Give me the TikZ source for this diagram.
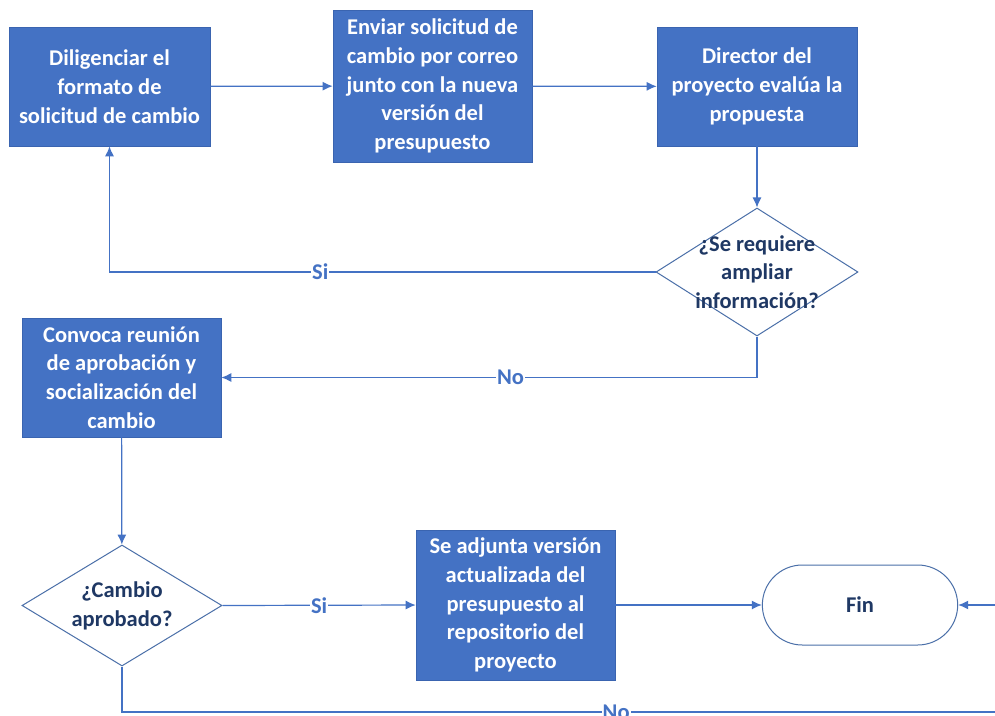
\documentclass[tikz,border=0pt]{standalone}
\usepackage{fontspec}
\setmainfont{Carlito}
\usetikzlibrary{shapes.geometric,shapes.misc,arrows.meta}
\definecolor{bblue}{HTML}{4472C4}
\definecolor{bedge}{HTML}{3A64B0}
\definecolor{dedge}{HTML}{4A6FA8}
\definecolor{dtextc}{HTML}{1F3864}
\tikzset{
  x=1pt,y=-1pt,
  proc/.style={rectangle,fill=bblue,draw=bedge,line width=0.6pt,text=white,font=\bfseries\fontsize{22.5}{28.8}\selectfont,align=center,inner sep=0pt},
  dia/.style={diamond,draw=dedge,line width=1pt,fill=white,inner sep=0pt,minimum width=202pt,minimum height=128pt},
  dtext/.style={text=dtextc,font=\bfseries\fontsize{22.5}{28.8}\selectfont,align=center},
  term/.style={rounded rectangle,draw=dedge,line width=1pt,fill=white,minimum width=202pt,minimum height=80pt,text=dtextc,font=\bfseries\fontsize{22.5}{28.8}\selectfont},
  conn/.style={draw=bblue,line width=1.2pt,-{Latex[length=10pt,width=9pt]}},
  lbl/.style={fill=white,text=bblue,font=\bfseries\fontsize{22.5}{24}\selectfont,inner sep=1pt}
}
\begin{document}
\begin{tikzpicture}
\useasboundingbox[fill=white] (0,0) rectangle (995,715);
\node[proc,minimum width=201pt,minimum height=119pt] (b1) at (109.5,86.5) {Diligenciar el\\formato de\\solicitud de cambio};
\node[proc,minimum width=199pt,minimum height=152pt] (b2) at (432.5,86) {Enviar solicitud de\\cambio por correo\\junto con la nueva\\versión del\\presupuesto};
\node[proc,minimum width=200pt,minimum height=119pt] (b3) at (757,86.5) {Director del\\proyecto evalúa la\\propuesta};
\node[dia] (d1) at (757,272) {};
\node[dtext] (d1t) at (757,272) {¿Se requiere\\ampliar\\información?};
\node[proc,minimum width=199pt,minimum height=119pt] (b4) at (121.5,377.5) {Convoca reunión\\de aprobación y\\socialización del\\cambio};
\node[dia,minimum width=200pt,minimum height=121pt] (d2) at (122,605.5) {};
\node[dtext] (d2t) at (122,605.5) {¿Cambio\\aprobado?};
\node[proc,minimum width=199pt,minimum height=150pt] (b5) at (515.5,605) {Se adjunta versión\\actualizada del\\presupuesto al\\repositorio del\\proyecto};
\node[term] (fin) at (860,605) {Fin};
\coordinate (r1) at (995,605);
\coordinate (r2) at (995,712);

\draw[conn] (b1) -- (b2);
\draw[conn] (b2) -- (b3);
\draw[conn] (b3) -- (d1);
\draw[conn] (d1.west) -| node[lbl,pos=0.307] {Si} (b1.south);
\draw[conn] (d1.south) |- node[lbl,pos=0.73] {No} (b4.east);
\draw[conn] (b4) -- (d2);
\draw[conn] (d2.east) -- node[lbl] {Si} (b5.west);
\draw[conn] (b5) -- (fin);
\draw[conn] (r1) -- (fin.east);
\draw[draw=bblue,line width=1.2pt] (d2.south) |- node[lbl,pos=0.783] {No} (r2);
\end{tikzpicture}
\end{document}
